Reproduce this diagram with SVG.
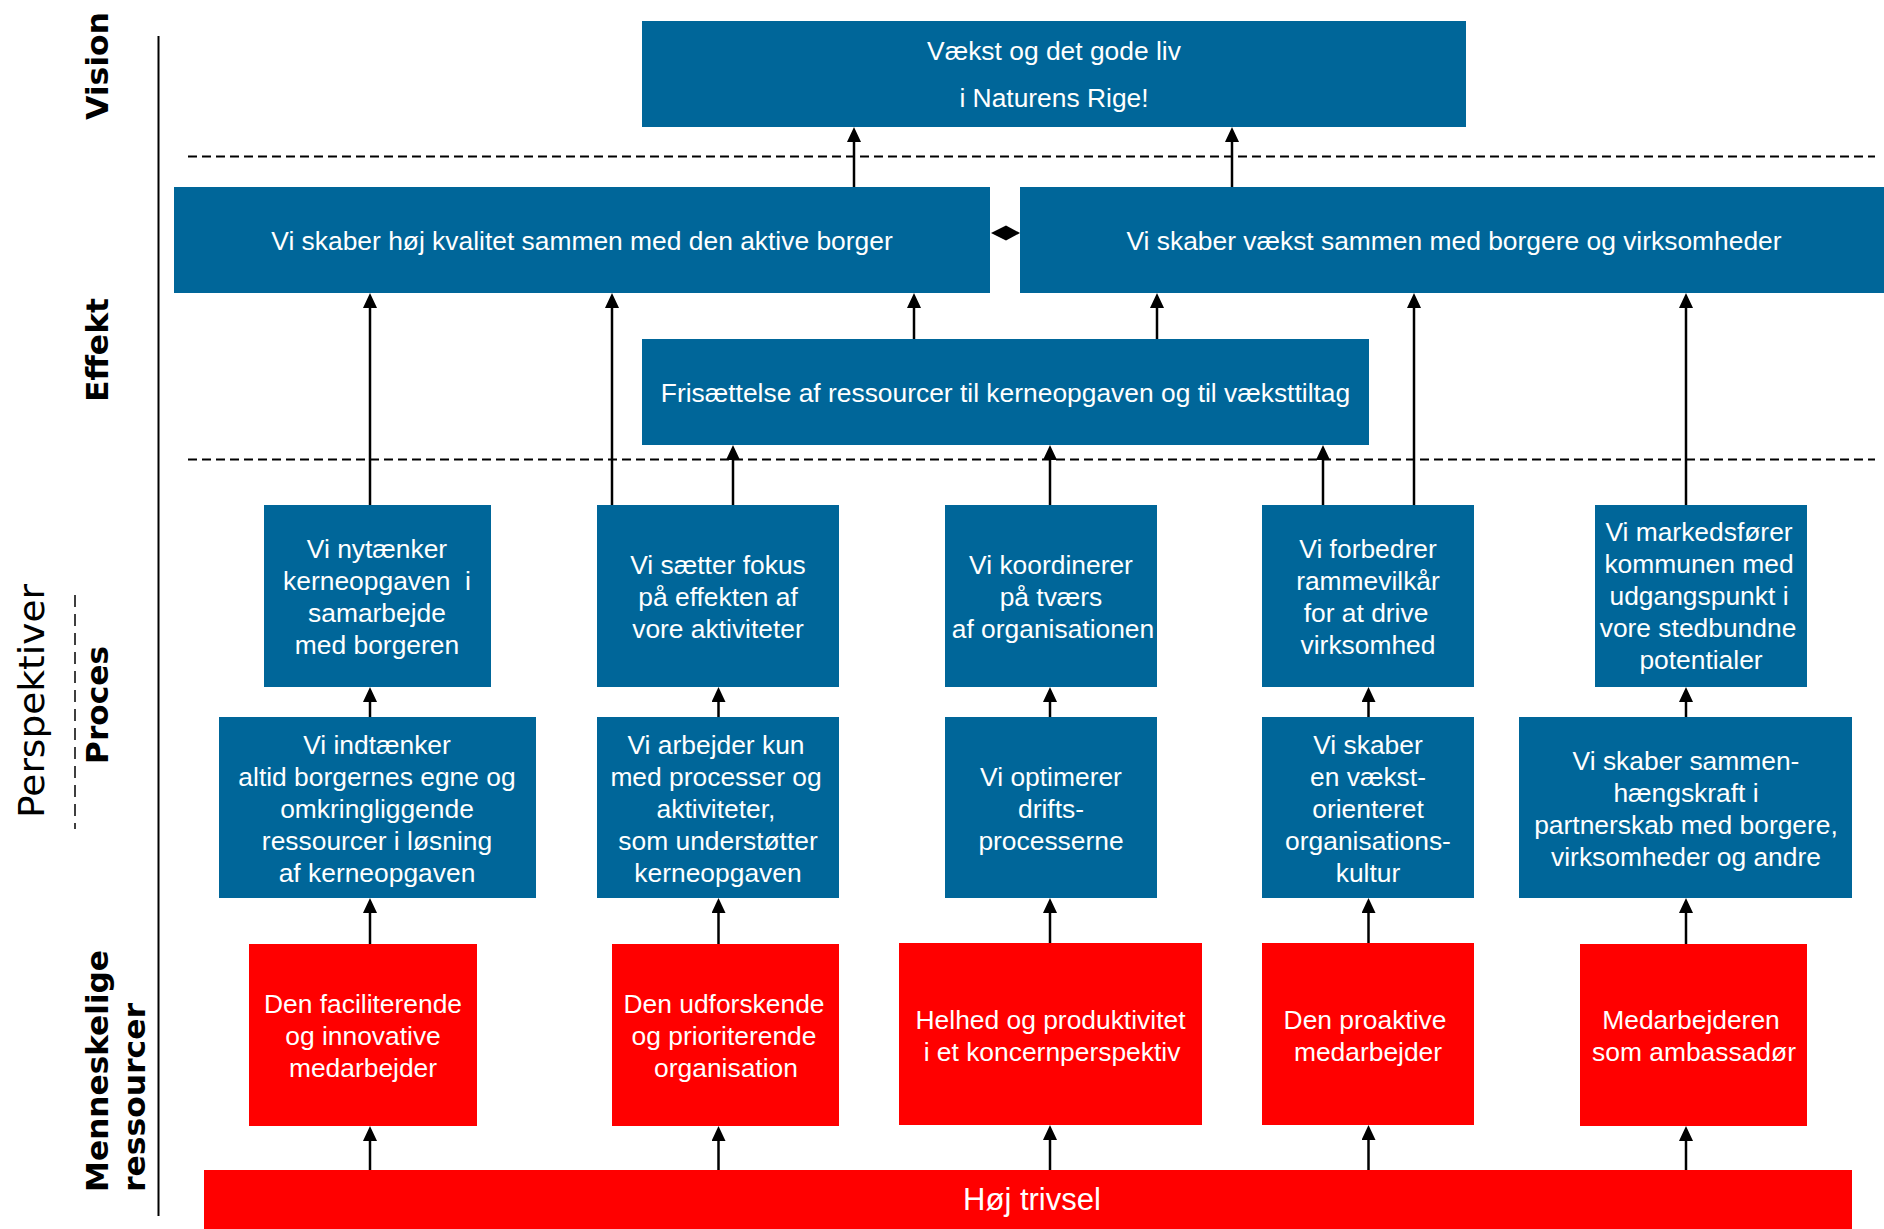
<svg xmlns="http://www.w3.org/2000/svg" width="1884" height="1229" viewBox="0 0 1884 1229">
<style>
.blue{fill:#006699}
.red{fill:#ff0000}
.t{font-family:"Liberation Sans",Arial,sans-serif;font-size:26.4px;fill:#ffffff;text-anchor:middle}
.lbl{font-family:"DejaVu Sans",Verdana,sans-serif;font-weight:bold;font-size:31px;fill:#000000}
.lblr{font-family:"DejaVu Sans",Verdana,sans-serif;font-size:35px;fill:#000000}
.conn line{stroke:#000000;stroke-width:2.5;marker-end:url(#ah)}
.dash{stroke:#000000;stroke-width:2;stroke-dasharray:9 5;fill:none}
</style>
<defs>
<marker id="ah" markerUnits="userSpaceOnUse" markerWidth="16" markerHeight="16" refX="0" refY="7" orient="auto">
<path d="M0,0 L15,7 L0,14 z" fill="#000000"/>
</marker>
</defs>
<rect width="1884" height="1229" fill="#ffffff"/>

<g id="axis">
<line x1="158.5" y1="36" x2="158.5" y2="1216" stroke="#000" stroke-width="2"/>
<line x1="75" y1="595" x2="75" y2="829" stroke="#000" stroke-width="1.5" stroke-dasharray="12 7"/>
<line class="dash" x1="188" y1="156.5" x2="1875" y2="156.5"/>
<line class="dash" x1="188" y1="459.5" x2="1875" y2="459.5"/>
</g>

<g id="labels">
<text class="lbl" transform="translate(108,120) rotate(-90)" textLength="108" lengthAdjust="spacingAndGlyphs">Vision</text>
<text class="lbl" transform="translate(108,402) rotate(-90)" textLength="104" lengthAdjust="spacingAndGlyphs">Effekt</text>
<text class="lbl" transform="translate(108,764) rotate(-90)" textLength="118" lengthAdjust="spacingAndGlyphs">Proces</text>
<text class="lbl" transform="translate(108,1192) rotate(-90)" textLength="242" lengthAdjust="spacingAndGlyphs">Menneskelige</text>
<text class="lbl" transform="translate(145,1192) rotate(-90)" textLength="189" lengthAdjust="spacingAndGlyphs">ressourcer</text>
<text class="lblr" transform="translate(44,818) rotate(-90)" textLength="234" lengthAdjust="spacingAndGlyphs">Perspektiver</text>
</g>

<g class="conn" id="connectors">
<line x1="854" y1="187" x2="854" y2="142"/>
<line x1="1232" y1="187" x2="1232" y2="142"/>
<line x1="914" y1="339" x2="914" y2="308"/>
<line x1="1157" y1="339" x2="1157" y2="308"/>
<line x1="370" y1="505" x2="370" y2="308"/>
<line x1="612" y1="505" x2="612" y2="308"/>
<line x1="1414" y1="505" x2="1414" y2="308"/>
<line x1="1686" y1="505" x2="1686" y2="308"/>
<line x1="733" y1="505" x2="733" y2="460"/>
<line x1="1050" y1="505" x2="1050" y2="460"/>
<line x1="1323" y1="505" x2="1323" y2="460"/>
<line x1="370" y1="717" x2="370" y2="702"/>
<line x1="718.5" y1="717" x2="718.5" y2="702"/>
<line x1="1050" y1="717" x2="1050" y2="702"/>
<line x1="1368.5" y1="717" x2="1368.5" y2="702"/>
<line x1="1686" y1="717" x2="1686" y2="702"/>
<line x1="370" y1="944" x2="370" y2="913"/>
<line x1="718.5" y1="944" x2="718.5" y2="913"/>
<line x1="1050" y1="943" x2="1050" y2="913"/>
<line x1="1368.5" y1="943" x2="1368.5" y2="913"/>
<line x1="1686" y1="944" x2="1686" y2="913"/>
<line x1="370" y1="1170" x2="370" y2="1141"/>
<line x1="718.5" y1="1170" x2="718.5" y2="1141"/>
<line x1="1050" y1="1170" x2="1050" y2="1140"/>
<line x1="1368.5" y1="1170" x2="1368.5" y2="1140"/>
<line x1="1686" y1="1170" x2="1686" y2="1141"/>
<polygon points="991,233 1006,225.5 1020,233 1006,240.5" fill="#000000"/>
</g>

<g id="vision">
<rect class="blue" x="642" y="21" width="824" height="106"/>
<text class="t"><tspan x="1054" y="60">Vækst og det gode liv</tspan><tspan x="1054" y="107">i Naturens Rige!</tspan></text>
</g>

<g id="effekt-kvalitet">
<rect class="blue" x="174" y="187" width="816" height="106"/>
<text class="t" x="582" y="250">Vi skaber høj kvalitet sammen med den aktive borger</text>
</g>
<g id="effekt-vaekst">
<rect class="blue" x="1020" y="187" width="864" height="106"/>
<text class="t" x="1454" y="250">Vi skaber vækst sammen med borgere og virksomheder</text>
</g>
<g id="frisaettelse">
<rect class="blue" x="642" y="339" width="727" height="106"/>
<text class="t" x="1005.5" y="402">Frisættelse af ressourcer til kerneopgaven og til væksttiltag</text>
</g>

<g id="p1-nytaenker">
<rect class="blue" x="264" y="505" width="227" height="182"/>
<text class="t"><tspan x="377" y="558">Vi nytænker</tspan><tspan x="377" y="590">kerneopgaven&#160; i</tspan><tspan x="377" y="622">samarbejde</tspan><tspan x="377" y="654">med borgeren</tspan></text>
</g>
<g id="p1-fokus">
<rect class="blue" x="597" y="505" width="242" height="182"/>
<text class="t"><tspan x="718" y="574">Vi sætter fokus</tspan><tspan x="718" y="606">på effekten af</tspan><tspan x="718" y="638">vore aktiviteter</tspan></text>
</g>
<g id="p1-koordinerer">
<rect class="blue" x="945" y="505" width="212" height="182"/>
<text class="t"><tspan x="1051" y="574">Vi koordinerer</tspan><tspan x="1051" y="606">på tværs</tspan><tspan x="1053" y="638">af organisationen</tspan></text>
</g>
<g id="p1-forbedrer">
<rect class="blue" x="1262" y="505" width="212" height="182"/>
<text class="t"><tspan x="1368" y="558">Vi forbedrer</tspan><tspan x="1368" y="590">rammevilkår</tspan><tspan x="1366" y="622">for at drive</tspan><tspan x="1368" y="654">virksomhed</tspan></text>
</g>
<g id="p1-markedsfoerer">
<rect class="blue" x="1595" y="505" width="212" height="182"/>
<text class="t"><tspan x="1699" y="541">Vi markedsfører</tspan><tspan x="1699" y="573">kommunen med</tspan><tspan x="1699" y="605">udgangspunkt i</tspan><tspan x="1698" y="637">vore stedbundne</tspan><tspan x="1701" y="669">potentialer</tspan></text>
</g>

<g id="p2-indtaenker">
<rect class="blue" x="219" y="717" width="317" height="181"/>
<text class="t"><tspan x="377" y="754">Vi indtænker</tspan><tspan x="377" y="786">altid borgernes egne og</tspan><tspan x="377" y="818">omkringliggende</tspan><tspan x="377" y="850">ressourcer i løsning</tspan><tspan x="377" y="882">af kerneopgaven</tspan></text>
</g>
<g id="p2-arbejder">
<rect class="blue" x="597" y="717" width="242" height="181"/>
<text class="t"><tspan x="716" y="754">Vi arbejder kun</tspan><tspan x="716" y="786">med processer og</tspan><tspan x="716" y="818">aktiviteter,</tspan><tspan x="718" y="850">som understøtter</tspan><tspan x="718" y="882">kerneopgaven</tspan></text>
</g>
<g id="p2-optimerer">
<rect class="blue" x="945" y="717" width="212" height="181"/>
<text class="t"><tspan x="1051" y="786">Vi optimerer</tspan><tspan x="1051" y="818">drifts-</tspan><tspan x="1051" y="850">processerne</tspan></text>
</g>
<g id="p2-kultur">
<rect class="blue" x="1262" y="717" width="212" height="181"/>
<text class="t"><tspan x="1368" y="754">Vi skaber</tspan><tspan x="1368" y="786">en vækst-</tspan><tspan x="1368" y="818">orienteret</tspan><tspan x="1368" y="850">organisations-</tspan><tspan x="1368" y="882">kultur</tspan></text>
</g>
<g id="p2-sammenhaeng">
<rect class="blue" x="1519" y="717" width="333" height="181"/>
<text class="t"><tspan x="1686" y="770">Vi skaber sammen-</tspan><tspan x="1686" y="802">hængskraft i</tspan><tspan x="1686" y="834">partnerskab med borgere,</tspan><tspan x="1686" y="866">virksomheder og andre</tspan></text>
</g>

<g id="r-faciliterende">
<rect class="red" x="249" y="944" width="228" height="182"/>
<text class="t"><tspan x="363" y="1013">Den faciliterende</tspan><tspan x="363" y="1045">og innovative</tspan><tspan x="363" y="1077">medarbejder</tspan></text>
</g>
<g id="r-udforskende">
<rect class="red" x="612" y="944" width="227" height="182"/>
<text class="t"><tspan x="724" y="1013">Den udforskende</tspan><tspan x="724" y="1045">og prioriterende</tspan><tspan x="726" y="1077">organisation</tspan></text>
</g>
<g id="r-helhed">
<rect class="red" x="899" y="943" width="303" height="182"/>
<text class="t"><tspan x="1050.5" y="1029">Helhed og produktivitet</tspan><tspan x="1052" y="1061">i et koncernperspektiv</tspan></text>
</g>
<g id="r-proaktive">
<rect class="red" x="1262" y="943" width="212" height="182"/>
<text class="t"><tspan x="1365" y="1029">Den proaktive</tspan><tspan x="1368" y="1061">medarbejder</tspan></text>
</g>
<g id="r-ambassador">
<rect class="red" x="1580" y="944" width="227" height="182"/>
<text class="t"><tspan x="1691" y="1029">Medarbejderen</tspan><tspan x="1694" y="1061">som ambassadør</tspan></text>
</g>

<g id="trivsel">
<rect class="red" x="204" y="1170" width="1648" height="59"/>
<text class="t" x="1032" y="1210" style="font-size:31px">Høj trivsel</text>
</g>
</svg>
